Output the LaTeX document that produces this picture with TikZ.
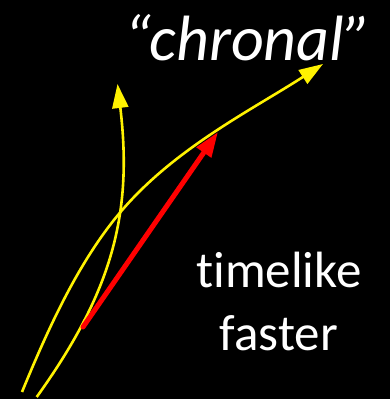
\documentclass[tikz,border=0pt]{standalone}
\usepackage{fontspec}
\setmainfont{Carlito}[Ligatures=NoCommon]
\usetikzlibrary{arrows.meta}

\begin{document}
\begin{tikzpicture}[
    x=1pt, y=-1pt,
    worldline/.style={draw=yellow, line width=2.6pt,
                      -{Triangle[length=24pt, width=16pt]}},
    signal/.style={draw=red, line width=5pt, line cap=round,
                   -{Triangle[length=25pt, width=17pt]}},
    label/.style={text=white, inner sep=0pt, align=center}
  ]
  % Background
  \fill[black] (0,0) rectangle (390,399);

  % Labels
  \node[label, anchor=base, font=\fontsize{64}{76}\selectfont\itshape] (chronal) at (248,60) {“chronal”};
  \node[label, anchor=base, font=\fontsize{51}{63}\selectfont] (timelike) at (279,350) {timelike\\faster};

  % End points
  \coordinate (upstart) at (36.7,397);
  \coordinate (uptip) at (117.5,84);
  \coordinate (fanstart) at (22,392);
  \coordinate (cross) at (118,215);
  \coordinate (fantip) at (323,64);
  \coordinate (redstart) at (83,327);
  \coordinate (redtip) at (218,132);

  % Curves
  \draw[worldline] (upstart) .. controls (112,292) and (133,214) .. (uptip);
  \draw[worldline] (fanstart) .. controls (46.7,332) and (76.7,265) .. (cross)
                   .. controls (172,149.5) and (251.8,110) .. (fantip);
  \draw[signal] (redstart) -- (redtip);
\end{tikzpicture}
\end{document}
